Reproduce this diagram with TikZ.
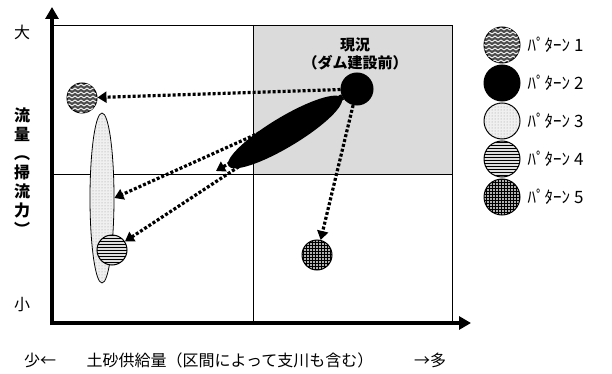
\documentclass[tikz,border=0pt]{standalone}
\usepackage{fontspec}
\newfontfamily\jpfont{Noto Sans CJK JP}
\usetikzlibrary{positioning,shapes.geometric,patterns,arrows.meta}

\pgfdeclarepatternformonly{zigzag}{\pgfqpoint{-1pt}{-1pt}}{\pgfqpoint{7pt}{5pt}}{\pgfqpoint{6pt}{4pt}}{
	\pgfsetlinewidth{0.9pt}
	\pgfpathmoveto{\pgfqpoint{0pt}{0pt}}
	\pgfpathlineto{\pgfqpoint{3pt}{2pt}}
	\pgfpathlineto{\pgfqpoint{6pt}{0pt}}
	\pgfusepath{stroke}}

\tikzset{
	ball/.style={circle, draw=black, line width=1pt, minimum size=30pt, inner sep=0pt},
	legball/.style={ball, minimum size=36pt},
	ptnA/.style={fill=black!70, postaction={pattern=zigzag, pattern color=white}},
	ptnB/.style={fill=black},
	ptnC/.style={fill=gray!12, postaction={pattern=dots, pattern color=gray!80}},
	ptnD/.style={fill=gray!25, postaction={pattern=horizontal lines, pattern color=black}},
	ptnE/.style={fill=gray!60, postaction={pattern=grid, pattern color=black}},
	flow/.style={line width=3.2pt, dash pattern=on 3pt off 2pt, -{Triangle[length=9pt,width=11pt]}},
	axis/.style={line width=4.5pt, -{Triangle[length=12pt,width=13pt]}},
	jp/.style={font=\jpfont\fontsize{16}{19}\selectfont, inner sep=0pt},
	legtxt/.style={font=\jpfont\fontsize{17}{19}\selectfont, inner sep=0pt}
}

\begin{document}
\begin{tikzpicture}[x=1pt, y=-1pt]
	\useasboundingbox (0,0) rectangle (612,374);

	% quadrants
	\fill[gray!28] (253,25) rectangle (452,174);
	\draw[line width=0.8pt] (52,25) rectangle (452,323);
	\draw[line width=0.8pt] (253,25) -- (253,323);
	\draw[line width=0.8pt] (52,174) -- (452,174);

	% present state and patterns
	\node[ball, ptnB, minimum size=32pt] (now) at (357,89) {};
	\node[jp, font=\jpfont\bfseries\fontsize{15}{18}\selectfont, align=center] (nowlbl) at (355,54) {現況\\（ダム建設前）};

	\node[ellipse, draw=black, line width=0.8pt, ptnC, minimum width=24pt, minimum height=170pt, inner sep=0pt] (p3) at (102,198) {};
	\node[ball, ptnA] (p1) at (82,98) {};
	\node[ball, ptnD] (p4) at (112,250) {};
	\node[ball, ptnE] (p5) at (317,255) {};
	\node[ellipse, fill=black, minimum width=132pt, minimum height=30pt, inner sep=0pt, rotate=31] (p2) at (285,132) {};
	\coordinate (p2end) at (216,171);

	\draw[flow] (now) -- (p1);
	\draw[flow] (now) -- (p2end);
	\draw[flow] (now) -- (p3.east);
	\draw[flow] (now) -- (p4);
	\draw[flow] (now) -- (p5);

	% axes
	\coordinate (origin) at (52,323);
	\coordinate (ytop) at (52,7);
	\coordinate (xend) at (471,323);
	\draw[axis] ([yshift=-2pt]origin) -- (ytop);
	\draw[axis] ([xshift=-2pt]origin) -- (xend);

	\node[jp] (big) at (22,32) {大};
	\node[jp, font=\jpfont\bfseries\fontsize{16}{19}\selectfont, align=center] (ylbl) at (22,172) {流\\量\\︵\\掃\\流\\力\\︶};
	\node[jp] (small) at (22,305) {小};
	\node[jp] (less) at (40,360) {少←};
	\node[jp] (xlbl) at (230,360) {土砂供給量（区間によって支川も含む）};
	\node[jp] (more) at (430,360) {→多};

	% legend
	\node[legball, ptnA] (lg1) at (502,45) {};
	\node[legball, ptnB, below=1pt of lg1] (lg2) {};
	\node[legball, ptnC, below=1pt of lg2] (lg3) {};
	\node[legball, ptnD, below=1pt of lg3] (lg4) {};
	\node[legball, ptnE, below=1pt of lg4] (lg5) {};
	\node[legtxt, right=7pt of lg1] {ﾊﾟﾀｰﾝ 1};
	\node[legtxt, right=7pt of lg2] {ﾊﾟﾀｰﾝ 2};
	\node[legtxt, right=7pt of lg3] {ﾊﾟﾀｰﾝ 3};
	\node[legtxt, right=7pt of lg4] {ﾊﾟﾀｰﾝ 4};
	\node[legtxt, right=7pt of lg5] {ﾊﾟﾀｰﾝ 5};
\end{tikzpicture}
\end{document}
